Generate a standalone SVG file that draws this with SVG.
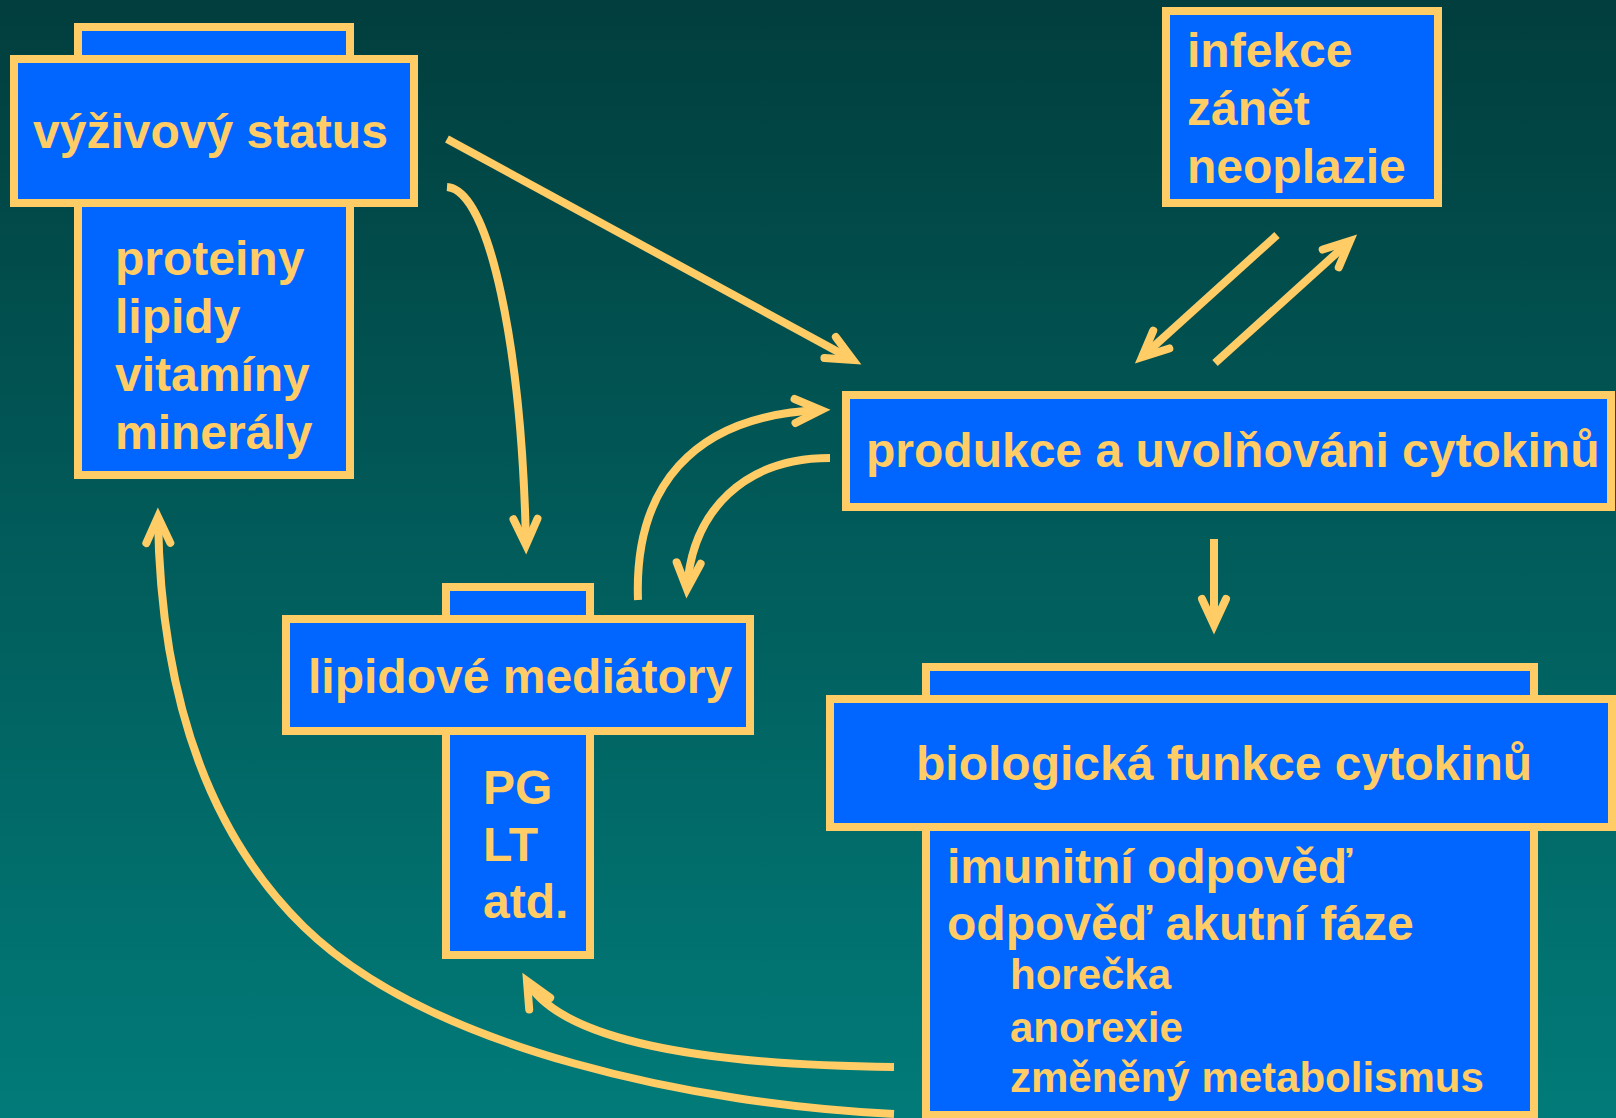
<svg xmlns="http://www.w3.org/2000/svg" width="1616" height="1118" viewBox="0 0 1616 1118">
<defs>
<linearGradient id="bg" x1="0" y1="0" x2="0" y2="1">
<stop offset="0" stop-color="#013E3D"/>
<stop offset="1" stop-color="#017B79"/>
</linearGradient>
<marker id="ah" markerUnits="userSpaceOnUse" viewBox="-40 -24 50 48" markerWidth="50" markerHeight="48" refX="0" refY="0" orient="auto" overflow="visible">
<path d="M-26,-12 L0,0 L-26,12" fill="none" stroke="#FFCC66" stroke-width="8" stroke-linecap="round" stroke-linejoin="miter" stroke-miterlimit="10"/>
</marker>
<style>
.box{fill:#0066FF;stroke:#FFCC66;stroke-width:8}
.t{font-family:"Liberation Sans",Arial,sans-serif;font-weight:bold;font-size:48px;fill:#FFCC66}
.s{font-size:42px}
.c{fill:none;stroke:#FFCC66;stroke-width:8;marker-end:url(#ah)}
</style>
</defs>
<rect x="0" y="0" width="1616" height="1118" fill="url(#bg)"/>

<g id="connectors">
<path class="c" d="M447,139 L853,360"/>
<path class="c" d="M447,187 C490,190 522,350 526,545"/>
<path class="c" d="M638,600 C634,490 690,415 821,410"/>
<path class="c" d="M830,458 C745,458 692,510 687,589"/>
<path class="c" d="M1277,235 L1142,357"/>
<path class="c" d="M1215,363 L1350,241"/>
<path class="c" d="M1214,539 L1214,625"/>
<path class="c" d="M894,1067 C700,1065 560,1040 527,981"/>
<path class="c" d="M894,1114 C700,1105 430,1050 304,927 C200,825 160,680 158,517"/>
</g>

<g id="vyzivovy-status">
<rect class="box" x="78" y="27" width="272" height="448"/>
<rect class="box" x="14" y="59" width="400" height="144"/>
<text class="t" x="33" y="148">výživový status</text>
<text class="t" x="115" y="275">proteiny</text>
<text class="t" x="115" y="333">lipidy</text>
<text class="t" x="115" y="391">vitamíny</text>
<text class="t" x="115" y="449">minerály</text>
</g>

<g id="infekce">
<rect class="box" x="1166" y="11" width="272" height="192"/>
<text class="t" x="1187" y="67">infekce</text>
<text class="t" x="1187" y="125">zánět</text>
<text class="t" x="1187" y="183">neoplazie</text>
</g>

<g id="produkce">
<rect class="box" x="846" y="395" width="765" height="112"/>
<text class="t" x="866" y="467">produkce a uvolňováni cytokinů</text>
</g>

<g id="lipidove-mediatory">
<rect class="box" x="446" y="587" width="144" height="368"/>
<rect class="box" x="286" y="619" width="464" height="112"/>
<text class="t" x="308" y="693">lipidové mediátory</text>
<text class="t" x="483" y="804">PG</text>
<text class="t" x="483" y="861">LT</text>
<text class="t" x="483" y="918">atd.</text>
</g>

<g id="biologicka-funkce">
<rect class="box" x="926" y="667" width="608" height="448"/>
<rect class="box" x="830" y="699" width="782" height="128"/>
<text class="t" x="916" y="780">biologická funkce cytokinů</text>
<text class="t" x="947" y="883">imunitní odpověď</text>
<text class="t" x="947" y="940">odpověď akutní fáze</text>
<text class="t s" x="1010" y="989">horečka</text>
<text class="t s" x="1010" y="1042">anorexie</text>
<text class="t s" x="1010" y="1092">změněný metabolismus</text>
</g>
</svg>
